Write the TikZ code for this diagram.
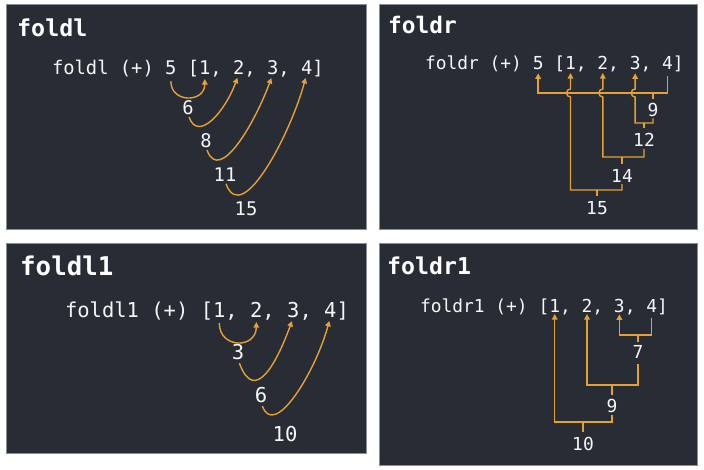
\documentclass[tikz,border=0pt]{standalone}
\usepackage{fontspec}
\newfontfamily\mono{DejaVu Sans Mono}
\usetikzlibrary{arrows.meta,positioning,calc}
\definecolor{panelbg}{HTML}{282C34}
\definecolor{panelrim}{HTML}{8A8D93}
\definecolor{fold}{HTML}{E6A035}
\definecolor{txt}{HTML}{F6F6F6}
\tikzset{
  panel/.style={fill=panelbg, draw=panelrim, line width=0.5pt},
  heading/.style={anchor=base west, inner sep=0pt, text=white, font=\mono\bfseries\fontsize{\tsz}{\tsz}\selectfont},
  src/.style={inner sep=0pt, outer sep=0pt, text=txt, font=\mono\fontsize{\csz}{\csz}\selectfont},
  nxt/.style={src, base right=0pt of #1},
  res/.style={src, anchor=base},
  conn/.style={draw=fold, line width=1.4pt},
  arr/.style={conn, -{Triangle[length=5.5pt,width=5.5pt]}, shorten <=3pt, shorten >=4pt}
}

\begin{document}
\begin{tikzpicture}[x=1pt, y=1pt]
  \fill[white] (0,0) rectangle (704,-469);
  \useasboundingbox (0,0) rectangle (704,-469);

  % foldl
  \begin{scope}
    \def\tsz{23.3}\def\csz{18.8}
    \draw[panel] (6,-4) rectangle (366,-229);
    \node[heading] (l-head) at (17,-36) {foldl};
    \node[src, anchor=base west] (l-pre) at (52,-74) {foldl (+)\ \null};
    \node[nxt=l-pre] (l-z) {5};
    \node[nxt=l-z] (l-o) {\ [};
    \node[nxt=l-o] (l-1) {1};
    \node[nxt=l-1] (l-c1) {,\ \null};
    \node[nxt=l-c1] (l-2) {2};
    \node[nxt=l-2] (l-c2) {,\ \null};
    \node[nxt=l-c2] (l-3) {3};
    \node[nxt=l-3] (l-c3) {,\ \null};
    \node[nxt=l-c3] (l-4) {4};
    \node[nxt=l-4] (l-e) {]};
    \node[res] (l-6) at (188,-114) {6};
    \node[res] (l-8) at (206,-147) {8};
    \node[res] (l-11) at (225,-181) {11};
    \node[res] (l-15) at (246,-215) {15};

    \draw[arr, shorten <=7pt, shorten >=5pt] (l-z.south) to[out=-90, in=-90, distance=29pt] (l-1.south);
    \draw[arr] (l-6.south) to[out=-70, in=-110, out distance=30pt, in distance=40pt] (l-2.south);
    \draw[arr] (l-8.south) to[out=-70, in=-110, out distance=40pt, in distance=50pt] (l-3.south);
    \draw[arr] (l-11.south) to[out=-70, in=-105, out distance=50pt, in distance=60pt] (l-4.south);
  \end{scope}

  % foldr
  \begin{scope}
    \def\tsz{22.8}\def\csz{17.9}
    \draw[panel] (379,-4) rectangle (697,-229);
    \node[heading] (r-head) at (388,-33) {foldr};
    \node[src, anchor=base west] (r-pre) at (425,-69) {foldr (+)\ \null};
    \node[nxt=r-pre] (r-z) {5};
    \node[nxt=r-z] (r-o) {\ [};
    \node[nxt=r-o] (r-1) {1};
    \node[nxt=r-1] (r-c1) {,\ \null};
    \node[nxt=r-c1] (r-2) {2};
    \node[nxt=r-2] (r-c2) {,\ \null};
    \node[nxt=r-c2] (r-3) {3};
    \node[nxt=r-3] (r-c3) {,\ \null};
    \node[nxt=r-c3] (r-4) {4};
    \node[nxt=r-4] (r-e) {]};
    \node[res] (r-9) at (653,-116) {9};
    \node[res] (r-12) at (644,-146) {12};
    \node[res] (r-14) at (622,-182) {14};
    \node[res] (r-15) at (597,-214) {15};
    \coordinate (r-k9) at (653,-93);
    \coordinate (r-k12) at (644,-123);
    \coordinate (r-k14) at (622,-157);
    \coordinate (r-k15) at (597,-190);

    \draw[arr, shorten <=7pt] (r-4.south) |- (r-k9) -| (r-z.south);
    \draw[conn, shorten >=4pt] (r-k9) -- (r-9);
    \draw[arr, shorten <=2pt] (r-9.south) |- (r-k12) -| ($(r-3.south |- r-k9)+(0,-4pt)$)
      arc[start angle=270, end angle=90, radius=4pt] -- (r-3.south);
    \draw[conn, shorten >=5pt] (r-k12) -- (r-12);
    \draw[arr] (r-12.south) |- (r-k14) -| ($(r-2.south |- r-k9)+(0,-4pt)$)
      arc[start angle=270, end angle=90, radius=4pt] -- (r-2.south);
    \draw[conn, shorten >=5pt] (r-k14) -- (r-14);
    \draw[arr, shorten <=2pt] (r-14.south) |- (r-k15) -| ($(r-1.south |- r-k9)+(0,-4pt)$)
      arc[start angle=270, end angle=90, radius=4pt] -- (r-1.south);
    \draw[conn, shorten >=5pt] (r-k15) -- (r-15);
  \end{scope}

  % foldl1
  \begin{scope}
    \def\tsz{25.8}\def\csz{20.5}
    \draw[panel] (6,-243) rectangle (366,-453);
    \node[heading] (l1-head) at (20,-275) {foldl1};
    \node[src, anchor=base west] (l1-pre) at (65,-317) {foldl1 (+)\ [};
    \node[nxt=l1-pre] (l1-1) {1};
    \node[nxt=l1-1] (l1-c1) {,\ \null};
    \node[nxt=l1-c1] (l1-2) {2};
    \node[nxt=l1-2] (l1-c2) {,\ \null};
    \node[nxt=l1-c2] (l1-3) {3};
    \node[nxt=l1-3] (l1-c3) {,\ \null};
    \node[nxt=l1-c3] (l1-4) {4};
    \node[nxt=l1-4] (l1-e) {]};
    \node[res] (l1-r3) at (238,-359) {3};
    \node[res] (l1-r6) at (261,-402) {6};
    \node[res] (l1-r10) at (285,-441) {10};

    \draw[arr, shorten <=6pt, shorten >=5pt] (l1-1.south) to[out=-90, in=-90, distance=32pt] (l1-2.south);
    \draw[arr, shorten <=4pt] (l1-r3.south) to[out=-70, in=-110, out distance=50pt, in distance=45pt] (l1-3.south);
    \draw[arr, shorten <=4pt] (l1-r6.south) to[out=-70, in=-105, out distance=40pt, in distance=55pt] (l1-4.south);
  \end{scope}

  % foldr1
  \begin{scope}
    \def\tsz{23.2}\def\csz{17.9}
    \draw[panel] (379,-243) rectangle (697,-465);
    \node[heading] (r1-head) at (387,-274) {foldr1};
    \node[src, anchor=base west] (r1-pre) at (420,-312) {foldr1 (+)\ [};
    \node[nxt=r1-pre] (r1-1) {1};
    \node[nxt=r1-1] (r1-c1) {,\ \null};
    \node[nxt=r1-c1] (r1-2) {2};
    \node[nxt=r1-2] (r1-c2) {,\ \null};
    \node[nxt=r1-c2] (r1-3) {3};
    \node[nxt=r1-3] (r1-c3) {,\ \null};
    \node[nxt=r1-c3] (r1-4) {4};
    \node[nxt=r1-4] (r1-e) {]};
    \node[res] (r1-r7) at (638,-358) {7};
    \node[res] (r1-r9) at (612,-412) {9};
    \node[res] (r1-r10) at (583,-450) {10};
    \coordinate (r1-k7) at (638,-335);
    \coordinate (r1-k9) at (612,-385);
    \coordinate (r1-k10) at (583,-422);

    \draw[arr, shorten <=6pt, shorten >=2pt] (r1-4.south) |- (r1-k7) -| (r1-3.south);
    \draw[conn, shorten >=3pt] (r1-k7) -- (r1-r7);
    \draw[arr, shorten <=6pt, shorten >=2pt] (r1-r7.south) |- (r1-k9) -| (r1-2.south);
    \draw[conn, shorten >=4pt] (r1-k9) -- (r1-r9);
    \draw[arr, shorten >=2pt] (r1-r9.south) |- (r1-k10) -| (r1-1.south);
    \draw[conn, shorten >=5pt] (r1-k10) -- (r1-r10);
  \end{scope}
\end{tikzpicture}
\end{document}
